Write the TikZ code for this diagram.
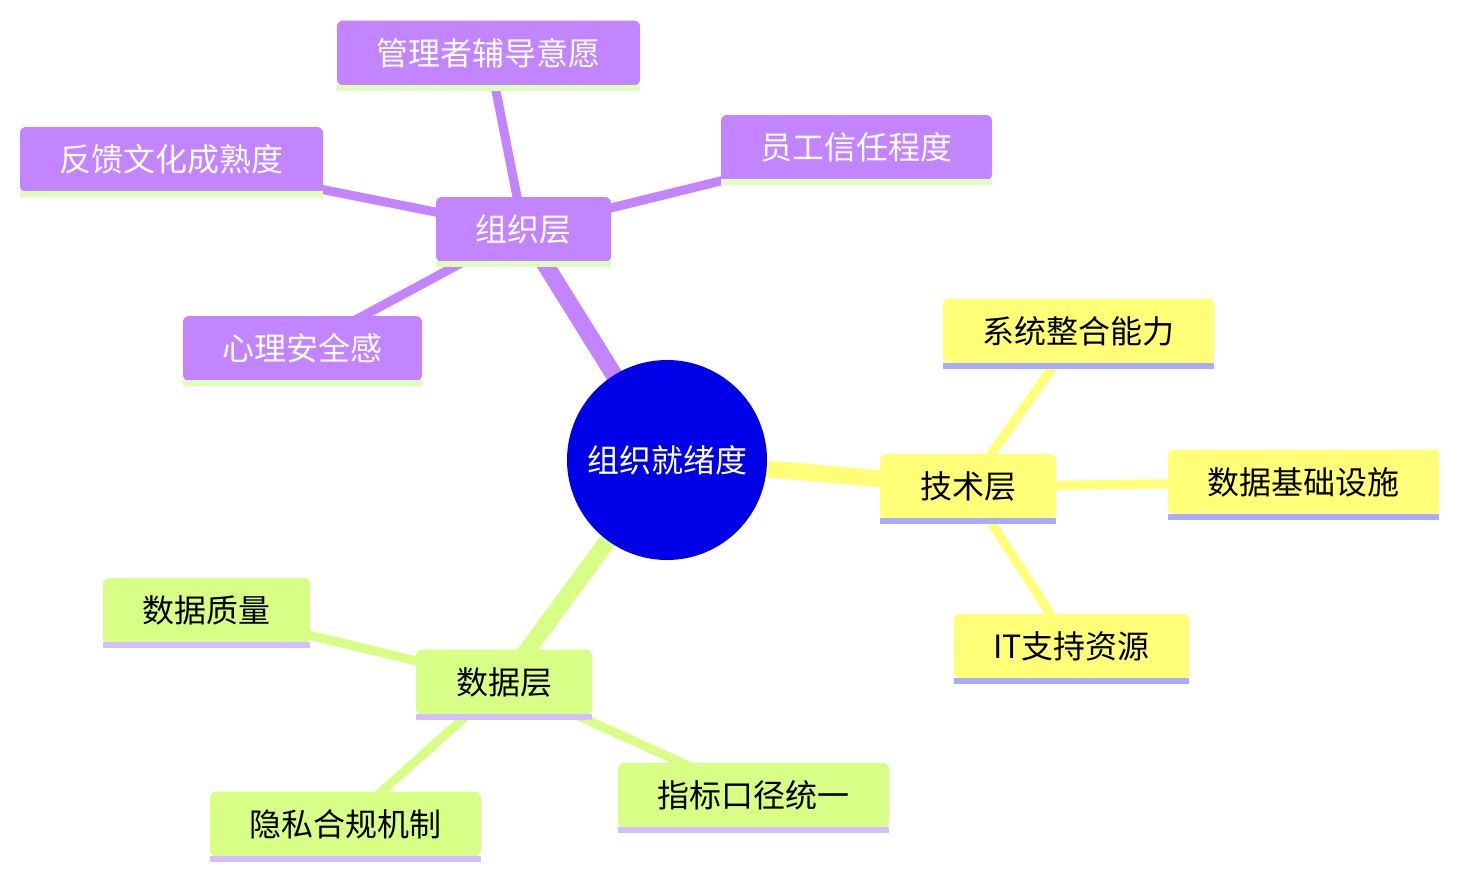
\documentclass[tikz,border=0pt]{standalone}
\usepackage{fontspec}
\newfontfamily\cjk{Noto Sans CJK SC}
\usetikzlibrary{backgrounds}
\definecolor{purp}{RGB}{194,133,255}
\definecolor{purpul}{RGB}{221,255,185}
\definecolor{yel}{RGB}{255,255,120}
\definecolor{yelul}{RGB}{170,170,255}
\definecolor{grn}{RGB}{216,255,133}
\definecolor{grnul}{RGB}{212,190,255}
\definecolor{rootblue}{RGB}{0,0,232}
\tikzset{
  mbox/.style={rounded corners=6pt, inner sep=0pt, font=\cjk\fontsize{32}{32}\selectfont, minimum height=65pt},
  pbox/.style={mbox, fill=purp, text=white},
  ybox/.style={mbox, fill=yel, text=black},
  gbox/.style={mbox, fill=grn, text=black},
  lvone/.style={line width=17pt},
  lvtwo/.style={line width=9pt},
}
\newcommand{\ul}[2]{\fill[#2] ([yshift=1pt]#1.south west) rectangle ([yshift=-5pt]#1.south east);}
\begin{document}
\begin{tikzpicture}[x=1pt,y=-1pt]
\useasboundingbox (0,0) rectangle (1459,878);
\node[circle, fill=rootblue, minimum size=200pt, inner sep=0pt, text=white, font=\cjk\fontsize{32}{32}\selectfont] (root) at (667,460) {组织就绪度};
% organisation layer
\node[pbox, minimum width=175pt] (org) at (523.5,229.5) {组织层};
\node[pbox, minimum width=303pt] (mgr) at (488.5,53) {管理者辅导意愿};
\node[pbox, minimum width=303pt] (fb) at (171.5,159.5) {反馈文化成熟度};
\node[pbox, minimum width=271pt] (trust) at (856.5,147.5) {员工信任程度};
\node[pbox, minimum width=239pt] (psy) at (302.5,348.5) {心理安全感};
% tech layer
\node[ybox, minimum width=176pt] (tech) at (968,486.5) {技术层};
\node[ybox, minimum width=271pt] (sys) at (1078.5,331) {系统整合能力};
\node[ybox, minimum width=271pt] (infra) at (1303.5,482) {数据基础设施};
\node[ybox, minimum width=235pt] (it) at (1071.5,646.5) {IT支持资源};
% data layer
\node[gbox, minimum width=176pt] (data) at (504,682) {数据层};
\node[gbox, minimum width=207pt] (dq) at (206.5,610.5) {数据质量};
\node[gbox, minimum width=271pt] (priv) at (345.5,824) {隐私合规机制};
\node[gbox, minimum width=271pt] (kpi) at (753.5,795.5) {指标口径统一};
% underlines
\ul{org}{purpul}\ul{mgr}{purpul}\ul{fb}{purpul}\ul{trust}{purpul}\ul{psy}{purpul}
\ul{tech}{yelul}\ul{sys}{yelul}\ul{infra}{yelul}\ul{it}{yelul}
\ul{data}{grnul}\ul{dq}{grnul}\ul{priv}{grnul}\ul{kpi}{grnul}
\begin{scope}[on background layer]
\draw[lvone, purp] (root.center) -- (org.center);
\draw[lvtwo, purp] (org.center) -- (mgr.center);
\draw[lvtwo, purp] (org.center) -- (fb.center);
\draw[lvtwo, purp] (org.center) -- (trust.center);
\draw[lvtwo, purp] (org.center) -- (psy.center);
\draw[lvone, yel] (root.center) -- (tech.center);
\draw[lvtwo, yel] (tech.center) -- (sys.center);
\draw[lvtwo, yel] (tech.center) -- (infra.center);
\draw[lvtwo, yel] (tech.center) -- (it.center);
\draw[lvone, grn] (root.center) -- (data.center);
\draw[lvtwo, grn] (data.center) -- (dq.center);
\draw[lvtwo, grn] (data.center) -- (priv.center);
\draw[lvtwo, grn] (data.center) -- (kpi.center);
\end{scope}
\end{tikzpicture}
\end{document}
